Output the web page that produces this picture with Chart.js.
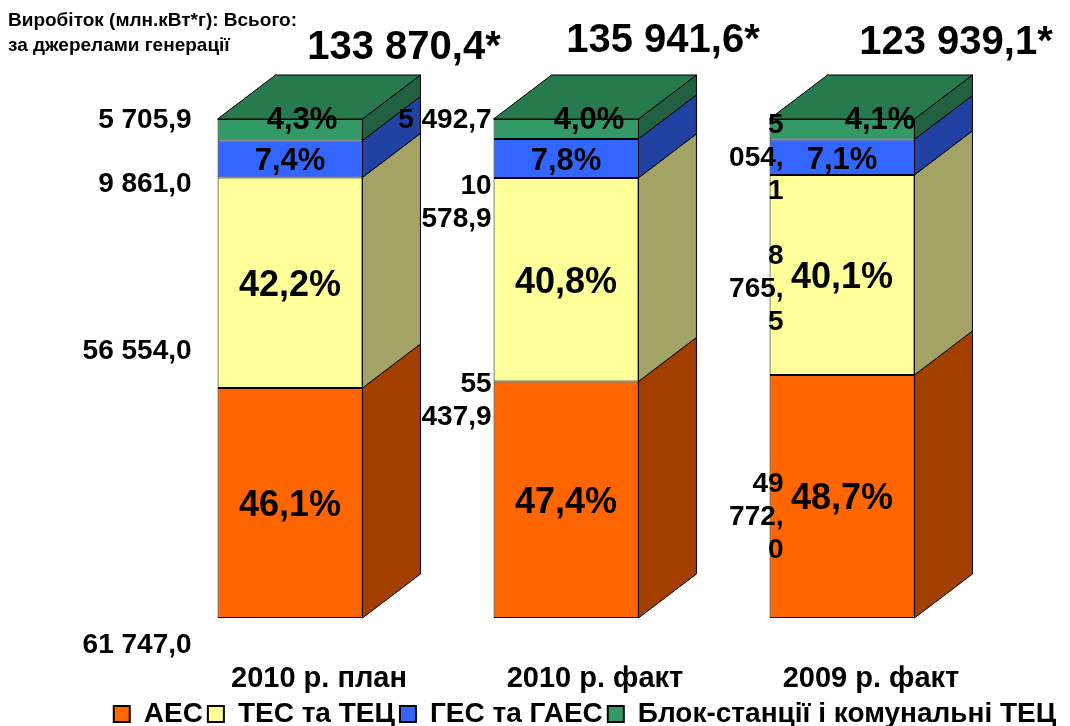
<!DOCTYPE html>
<html>
<head>
<meta charset="utf-8">
<script src="https://cdn.jsdelivr.net/npm/chart.js@4.4.1/dist/chart.umd.min.js"></script>
<style>
  html, body { margin: 0; padding: 0; background: #fff; }
  #wrap { width: 1070px; height: 726px; }
</style>
</head>
<body>
<div id="wrap"><canvas id="genChart"></canvas></div>
<script>
const categories = ['2010 р. план', '2010 р. факт', '2009 р. факт'];
const seriesNames = ['АЕС', 'ТЕС та ТЕЦ', 'ГЕС та ГАЕС', 'Блок-станції і комунальні ТЕЦ'];

// shares of generation, %
const aesShare = [46.1, 47.4, 48.7];
const tesShare = [42.2, 40.8, 40.1];
const gesShare = [7.4, 7.8, 7.1];
const blokShare = [4.3, 4.0, 4.1];

// output, mln kWh (null = not printed on the source chart)
const aesOutput = [61747.0, null, null];
const tesOutput = [56554.0, 55437.9, 49772.0];
const gesOutput = [9861.0, 10578.9, 8765.5];
const blokOutput = [5705.9, 5492.7, 5054.1];

const totalOutput = [133870.4, 135941.6, 123939.1];

const FONT = '"Liberation Sans", Arial, sans-serif';
Chart.defaults.font.family = FONT;

const frontColors = ['#FF6600', '#FFFF99', '#3366FF', '#339966'];
const sideColors = ['#A33F00', '#A3A366', '#2142A3', '#216142'];
const topColor = '#277A4E';
const DEPTH_X = 58;
const DEPTH_Y = -44;

// where the output labels sit (in % of the axis), per bar: АЕС, ТЕС, ГЕС, Блок
const outputLabelAt = [
    [-5.2, 53.6, 87.1, 100],
    [null, 43.8, 83.5, 100],
    [null, 20.4, 66.1, 92.4]
];
const outputLabelRight = [-26, -2, 14]; // from the bar's left edge
const outputLabelWrap = [Infinity, 100, 60];
const topLabelShift = [12, 23, 38];
const totalShift = [114, 97, 114];
const totalY = [48, 41, 43];

const fmtNum = (n) => n.toFixed(1).replace('.', ',').replace(/\B(?=(\d{3})+(?!\d))/g, ' ');
const fmtPct = (n) => n.toFixed(1).replace('.', ',') + '%';

// wrap like the office label box: at spaces first, then after the comma
const wrapLabel = (ctx, text, maxW) => {
    const lines = [];
    let cur = '';
    text.split(' ').forEach(word => {
        const test = cur ? cur + ' ' + word : word;
        if (ctx.measureText(test).width <= maxW) { cur = test; return; }
        if (cur) lines.push(cur);
        if (ctx.measureText(word).width <= maxW) { cur = word; return; }
        const k = word.indexOf(',');
        lines.push(word.slice(0, k + 1));
        cur = word.slice(k + 1);
    });
    if (cur) lines.push(cur);
    return lines;
};

const poly = (ctx, pts, fill) => {
    ctx.beginPath();
    ctx.moveTo(pts[0][0], pts[0][1]);
    pts.slice(1).forEach(p => ctx.lineTo(p[0], p[1]));
    ctx.closePath();
    ctx.fillStyle = fill;
    ctx.fill();
    ctx.stroke();
};

// side and top faces for the 3D look
const boxFaces = {
    id: 'boxFaces',
    afterDatasetsDraw(chart) {
        const ctx = chart.ctx;
        const last = chart.data.datasets.length - 1;
        ctx.save();
        ctx.strokeStyle = '#000';
        ctx.lineWidth = 1;
        ctx.lineJoin = 'round';
        chart.data.datasets.forEach((ds, di) => {
            chart.getDatasetMeta(di).data.forEach(bar => {
                const left = bar.x - bar.width / 2;
                const right = bar.x + bar.width / 2;
                const top = Math.min(bar.y, bar.base);
                const bottom = Math.max(bar.y, bar.base);
                poly(ctx, [[right, top], [right + DEPTH_X, top + DEPTH_Y],
                    [right + DEPTH_X, bottom + DEPTH_Y], [right, bottom]], sideColors[di]);
                if (di === last) {
                    poly(ctx, [[left, top], [left + DEPTH_X, top + DEPTH_Y],
                        [right + DEPTH_X, top + DEPTH_Y], [right, top]], topColor);
                }
            });
        });
        ctx.restore();
    }
};

const outputs = [aesOutput, tesOutput, gesOutput, blokOutput];

const textLayer = {
    id: 'textLayer',
    afterDraw(chart) {
        const ctx = chart.ctx;
        const yScale = chart.scales.y;
        const last = chart.data.datasets.length - 1;
        const firstMeta = chart.getDatasetMeta(0);
        ctx.save();
        ctx.fillStyle = '#000';

        // header
        ctx.font = `bold 19px ${FONT}`;
        ctx.textAlign = 'left';
        ctx.textBaseline = 'middle';
        ctx.fillText('Виробіток (млн.кВт*г): Всього:', 8, 21);
        ctx.fillText('за джерелами генерації', 8, 46);

        // percentages on the front faces
        ctx.textAlign = 'center';
        chart.data.datasets.forEach((ds, di) => {
            chart.getDatasetMeta(di).data.forEach((bar, i) => {
                ctx.font = `bold ${di < 2 ? 36 : 31}px ${FONT}`;
                let x = bar.x;
                let y = (bar.y + bar.base) / 2 + 3;
                if (di === last) {
                    x += topLabelShift[i];
                    y = bar.y + 1;
                }
                ctx.fillText(fmtPct(ds.data[i]), x, y);
            });
        });

        // category names under the boxes
        ctx.font = `bold 29px ${FONT}`;
        firstMeta.data.forEach((bar, i) => {
            ctx.fillText(chart.data.labels[i], bar.x + DEPTH_X / 2, 679);
        });

        // totals above the bars
        ctx.font = `bold 40px ${FONT}`;
        totalOutput.forEach((t, i) => {
            ctx.fillText(fmtNum(t) + '*', firstMeta.data[i].x + totalShift[i], totalY[i]);
        });

        // output values left of the bars
        ctx.font = `bold 28px ${FONT}`;
        ctx.textAlign = 'right';
        firstMeta.data.forEach((bar, i) => {
            const xr = bar.x - bar.width / 2 + outputLabelRight[i];
            outputs.forEach((arr, si) => {
                if (arr[i] == null) return;
                const lines = wrapLabel(ctx, fmtNum(arr[i]), outputLabelWrap[i]);
                const yc = yScale.getPixelForValue(outputLabelAt[i][si]) + 1;
                const lh = 33;
                lines.forEach((ln, k) => {
                    ctx.fillText(ln, xr, yc + (k - (lines.length - 1) / 2) * lh);
                });
            });
        });
        ctx.restore();
    }
};

const shares = [aesShare, tesShare, gesShare, blokShare];

new Chart(document.getElementById('genChart'), {
    type: 'bar',
    data: {
        labels: categories,
        datasets: seriesNames.map((name, i) => ({
            label: name,
            data: shares[i],
            backgroundColor: frontColors[i],
            borderColor: '#000',
            borderWidth: 1,
            borderSkipped: false,
            categoryPercentage: 1,
            barPercentage: 0.525
        }))
    },
    options: {
        responsive: true,
        maintainAspectRatio: false,
        animation: false,
        layout: { padding: { top: 119, left: 100, right: 0, bottom: -12 } },
        scales: {
            x: {
                stacked: true,
                grid: { display: false },
                border: { display: false },
                ticks: { display: false },
                afterFit: (s) => { s.height = 77; }
            },
            y: {
                stacked: true,
                min: 0,
                max: 100,
                grid: { display: false },
                border: { display: false },
                ticks: { display: false },
                afterFit: (s) => { s.width = 52; }
            },
            yRight: {
                position: 'right',
                display: true,
                grid: { display: false },
                border: { display: false },
                ticks: { display: false },
                afterFit: (s) => { s.width = 90; }
            }
        },
        plugins: {
            legend: {
                position: 'bottom',
                labels: {
                    color: '#000',
                    font: { size: 28, weight: 'bold' },
                    boxWidth: 16,
                    boxHeight: 16,
                    padding: 5,
                    generateLabels: (chart) => {
                        const items = Chart.defaults.plugins.legend.labels.generateLabels(chart);
                        items.forEach(it => { it.lineWidth = 2; });
                        return items;
                    }
                }
            },
            tooltip: { enabled: false }
        }
    },
    plugins: [boxFaces, textLayer]
});
</script>
</body>
</html>
